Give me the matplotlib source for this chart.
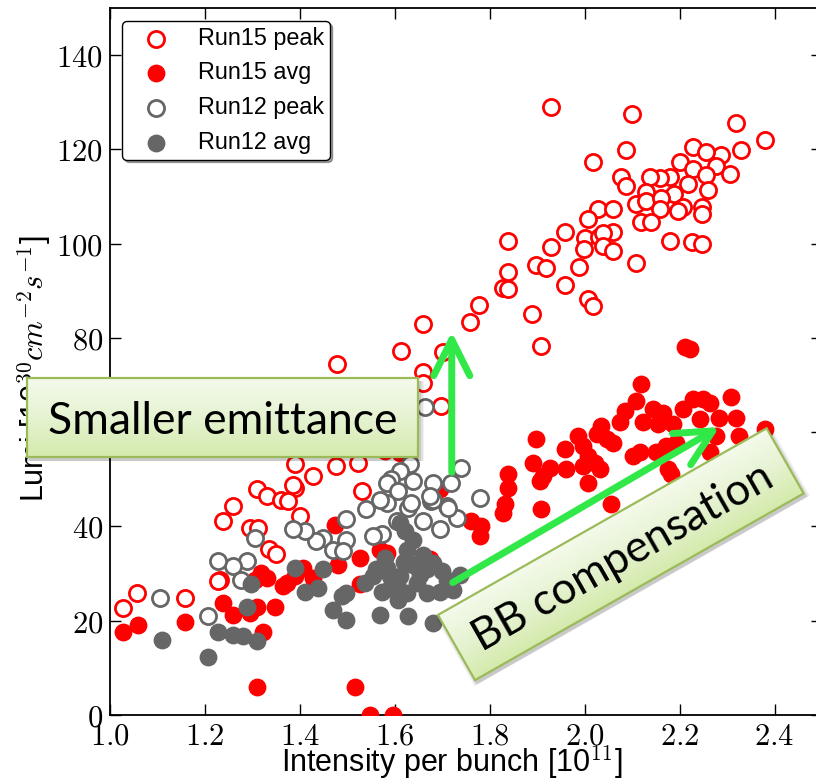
import numpy as np
import matplotlib
matplotlib.use("Agg")
import matplotlib.pyplot as plt
from matplotlib.patches import Polygon, FancyArrowPatch, ArrowStyle
from matplotlib.transforms import Affine2D
from matplotlib.ticker import FuncFormatter, MultipleLocator
from matplotlib.colors import LinearSegmentedColormap

plt.rcParams["mathtext.fontset"] = "cm"
plt.rcParams["font.family"] = ["Liberation Sans", "DejaVu Sans"]

# bunch intensity [1e11] and luminosity [1e30 cm^-2 s^-1]
run15_peak_x = [1.929, 2.100, 2.318, 2.380, 2.228, 2.330, 2.288, 2.256, 2.088, 2.018,
                2.200, 2.228, 2.277, 2.307, 2.256, 2.179, 2.158, 2.138, 2.077, 2.088,
                2.217, 2.260, 2.189, 2.130, 2.109, 2.130, 2.161, 2.207, 2.196, 2.248,
                2.248, 2.158, 2.119, 2.140, 2.179, 2.227, 2.248, 2.109, 2.028, 2.060,
                2.007, 1.958, 2.000, 2.030, 2.060, 2.039, 1.999, 2.039, 2.060, 1.930,
                1.839, 1.898, 1.919, 1.988, 1.839, 1.828, 1.839, 1.959, 2.007, 2.018,
                1.777, 1.758, 1.660, 1.889, 1.909, 1.614, 1.702, 1.660, 1.660, 1.698,
                1.479, 1.389, 1.477, 1.523, 1.428, 1.389, 1.309, 1.330, 1.361, 1.375,
                1.260, 1.239, 1.295, 1.312, 1.400, 1.530, 1.335, 1.350, 1.232, 1.028,
                1.056, 1.158, 1.228, 1.386]
run15_peak_y = [129.1, 127.5, 125.5, 122.0, 120.6, 119.9, 118.8, 119.4, 119.9, 117.4,
                117.4, 115.8, 116.5, 114.7, 114.5, 114.1, 114.0, 114.1, 114.1, 112.3,
                112.6, 111.4, 110.6, 111.0, 108.5, 109.0, 109.6, 107.8, 106.9, 107.8,
                106.2, 107.4, 104.5, 104.7, 100.5, 100.3, 100.0, 95.9, 107.4, 107.4,
                105.3, 102.5, 101.2, 101.4, 102.5, 102.3, 98.9, 99.6, 98.4, 99.3,
                100.6, 95.4, 94.8, 95.0, 93.9, 90.6, 90.3, 91.3, 88.3, 86.7,
                87.0, 83.3, 83.0, 85.1, 78.3, 77.3, 77.0, 72.7, 70.5, 65.6,
                74.5, 53.2, 52.8, 53.5, 50.7, 48.2, 47.9, 46.5, 45.7, 45.3,
                44.3, 41.1, 39.7, 39.7, 42.2, 47.5, 35.3, 34.2, 28.7, 22.7,
                25.9, 24.8, 28.4, 48.9]

run15_avg_x = [2.211, 2.221, 2.119, 2.309, 2.109, 2.228, 2.249, 2.263, 2.084, 2.144,
               2.165, 2.207, 2.319, 2.284, 2.074, 2.123, 2.154, 2.186, 2.242, 2.035,
               2.379, 2.326, 2.277, 1.986, 2.025, 2.046, 2.060, 1.898, 1.958, 1.996,
               2.172, 2.193, 2.102, 2.116, 2.151, 2.263, 2.007, 2.021, 1.996, 2.032,
               1.891, 1.926, 1.912, 1.961, 1.905, 2.175, 2.182, 2.007, 1.839, 1.839,
               1.832, 1.828, 1.909, 2.056, 1.761, 1.782, 1.779, 1.660, 1.474, 1.526,
               1.481, 1.526, 1.568, 1.583, 1.674, 1.695, 1.319, 1.330, 1.305, 1.372,
               1.389, 1.407, 1.428, 1.365, 1.347, 1.239, 1.260, 1.295, 1.323, 1.309,
               1.309, 1.516, 1.547, 1.596, 1.028, 1.060, 1.158, 1.580, 1.610]
run15_avg_y = [78.0, 77.7, 70.2, 67.4, 66.7, 67.0, 67.0, 66.3, 64.5, 64.9,
               64.1, 64.9, 63.1, 63.1, 62.1, 62.1, 61.7, 61.7, 62.8, 61.3,
               60.6, 59.2, 59.2, 59.2, 59.6, 58.5, 57.8, 58.5, 56.4, 57.1,
               57.1, 57.8, 55.0, 55.7, 55.7, 55.7, 55.0, 53.5, 52.8, 52.1,
               53.5, 52.5, 50.7, 52.1, 49.6, 52.1, 51.1, 49.3, 51.1, 48.2,
               44.7, 42.8, 43.6, 44.7, 41.1, 40.1, 38.0, 33.7, 40.4, 33.3,
               31.9, 27.7, 35.1, 34.4, 33.0, 47.9, 30.1, 29.0, 28.7, 28.0,
               29.4, 31.2, 29.0, 27.3, 23.0, 23.7, 21.3, 21.6, 17.7, 23.0,
               6.0, 6.0, 0.0, 0.0, 17.7, 19.1, 19.8, 56.0, 55.5]

run12_peak_x = [1.632, 1.611, 1.593, 1.583, 1.740, 1.719, 1.681, 1.639, 1.607, 1.779,
                1.709, 1.677, 1.628, 1.583, 1.568, 1.540, 1.498, 1.660, 1.695, 1.730,
                1.604, 1.572, 1.554, 1.498, 1.449, 1.435, 1.470, 1.411, 1.386, 1.491,
                1.305, 1.288, 1.260, 1.228, 1.277, 1.207, 1.105, 1.663, 1.635, 1.681,
                1.712, 1.674]
run12_peak_y = [53.2, 51.8, 50.0, 49.3, 52.5, 49.3, 49.3, 49.6, 47.5, 46.1,
                44.3, 45.3, 43.9, 45.0, 45.7, 43.6, 41.5, 41.1, 39.4, 41.8,
                41.1, 38.3, 38.0, 37.2, 37.5, 36.9, 35.1, 39.0, 39.4, 34.7,
                37.5, 32.6, 31.6, 32.6, 28.7, 20.9, 24.8, 65.4, 45.0, 45.7,
                44.0, 46.5]

run12_avg_x = [1.389, 1.449, 1.411, 1.438, 1.298, 1.288, 1.228, 1.260, 1.281, 1.309,
               1.207, 1.109, 1.470, 1.488, 1.498, 1.498, 1.537, 1.568, 1.628, 1.681,
               1.561, 1.583, 1.572, 1.607, 1.625, 1.646, 1.611, 1.667, 1.681, 1.639,
               1.625, 1.621, 1.611, 1.639, 1.653, 1.709, 1.695, 1.723, 1.737, 1.589,
               1.554, 1.604, 1.667, 1.579, 1.700, 1.660, 1.620, 1.590]
run12_avg_y = [31.2, 30.9, 26.2, 26.9, 27.7, 23.0, 17.7, 17.0, 16.7, 15.6,
               12.4, 16.0, 22.3, 25.2, 25.8, 20.2, 28.0, 21.3, 20.9, 19.5,
               30.9, 31.2, 26.2, 24.5, 25.8, 28.0, 29.4, 25.8, 32.2, 31.9,
               35.1, 39.0, 40.7, 37.2, 29.8, 28.7, 26.2, 26.6, 29.8, 29.4,
               29.4, 28.0, 30.9, 33.3, 30.5, 34.0, 32.5, 27.0]

GRAY = "#666666"
GREEN = "#30e848"

W, H = 816, 783
fig = plt.figure(figsize=(W / 100, H / 100), dpi=100)
ax = fig.add_axes([110 / W, 1 - 715 / H, 712 / W, 707 / H])

ax.scatter(run15_peak_x, run15_peak_y, s=135, facecolors="white", edgecolors="red",
           linewidths=2.0, label="Run15 peak", zorder=2)
ax.scatter(run15_avg_x, run15_avg_y, s=140, c="red", edgecolors="red",
           linewidths=1.0, label="Run15 avg", zorder=3)
ax.scatter(run12_peak_x, run12_peak_y, s=135, facecolors="white", edgecolors=GRAY,
           linewidths=2.0, label="Run12 peak", zorder=4)
ax.scatter(run12_avg_x, run12_avg_y, s=140, c=GRAY, edgecolors=GRAY,
           linewidths=1.0, label="Run12 avg", zorder=5)

ax.set_xlim(1.0, 2.5)
ax.set_ylim(0, 150)
ax.xaxis.set_major_locator(MultipleLocator(0.2))
ax.yaxis.set_major_locator(MultipleLocator(20))
ax.xaxis.set_major_formatter(FuncFormatter(lambda v, p: f"${v:.1f}$"))
ax.yaxis.set_major_formatter(FuncFormatter(lambda v, p: f"${v:.0f}$"))
ax.tick_params(direction="in", top=True, right=True, length=8, width=1,
               labelsize=22, pad=5)
for sp in ax.spines.values():
    sp.set_linewidth(1.3)

ax.set_xlabel(r"Intensity per bunch [10$^{11}$]", fontsize=22)
ax.set_ylabel(r"Lumi [10$^{30}cm^{-2}s^{-1}$]", fontsize=22)
ax.xaxis.set_label_coords(0.48, -0.04)
ax.yaxis.set_label_coords(-0.08, 0.49)

leg = ax.legend(loc="upper left", bbox_to_anchor=(122 / W, 1 - 21 / H),
                bbox_transform=fig.transFigure, scatterpoints=1, fontsize=16.8,
                fancybox=True, shadow=True, framealpha=1, borderpad=0.25,
                labelspacing=0.5, handlelength=2.4, handletextpad=0.6,
                borderaxespad=0)
leg.get_frame().set_edgecolor("black")
leg.get_frame().set_linewidth(1.0)

# overlay in pixel coordinates for the callout boxes
ov = fig.add_axes([0, 0, 1, 1], zorder=10)
ov.patch.set_alpha(0)
ov.axis("off")

box_cmap = LinearSegmentedColormap.from_list(
    "callout", ["#f4faeb", "#e6f3d2", "#d4eaab"])


def callout(cx, cy, w, h, angle, text, fontsize, base_off):
    th = np.deg2rad(angle)
    e1 = np.array([np.cos(th), -np.sin(th)])
    e2 = np.array([np.sin(th), np.cos(th)])
    c = np.array([cx, cy])
    local = [(-w / 2, -h / 2), (w / 2, -h / 2), (w / 2, h / 2), (-w / 2, h / 2)]
    corners = [c + u * e1 + v * e2 for u, v in local]
    # soft shadow
    for grow, alpha in [(4, 0.05), (2.5, 0.07), (1, 0.1)]:
        sh = [p + np.array([2.5, 3.5]) + grow * (p - c) / np.linalg.norm(p - c)
              for p in corners]
        ov.add_patch(Polygon(sh, closed=True, facecolor="black", edgecolor="none",
                             alpha=alpha, zorder=1))
    frame = Polygon(corners, closed=True, facecolor="none", edgecolor="#9bbb59",
                    lw=1.6, zorder=3)
    ov.add_patch(frame)
    m = Affine2D(np.array([[e1[0], e2[0], cx], [e1[1], e2[1], cy], [0, 0, 1]]))
    grad = np.linspace(0, 1, 128)[:, None]
    im = ov.imshow(grad, cmap=box_cmap, extent=(-w / 2, w / 2, h / 2, -h / 2),
                   origin="upper", aspect="auto", interpolation="bilinear",
                   transform=m + ov.transData, zorder=2)
    im.set_clip_path(frame)
    tp = c + base_off * e2
    ov.text(tp[0], tp[1], text, rotation=angle, rotation_mode="anchor",
            ha="center", va="baseline", fontsize=fontsize,
            family=["Lato", "DejaVu Sans"], zorder=4)


callout(222.5, 417.5, 391, 79, 0, "Smaller emittance", 32, 17)
callout(620.8, 554.2, 378, 75, 29.6, "BB compensation", 31.5, 16)

ov.set_xlim(0, W)
ov.set_ylim(H, 0)

# arrows drawn in data coordinates of the scatter axes
head = ArrowStyle("->", head_length=26, head_width=13)
for (x0, y0), (x1, y1) in [((1.72, 51.5), (1.72, 81.3)),
                           ((1.722, 28.1), (2.284, 61.1))]:
    arr = FancyArrowPatch((x0, y0), (x1, y1), arrowstyle=head, mutation_scale=1,
                          lw=5, color=GREEN, capstyle="round", joinstyle="round",
                          shrinkA=0, shrinkB=0, transform=ax.transData, zorder=6)
    ov.add_patch(arr)

fig.savefig("out.png", dpi=100)
